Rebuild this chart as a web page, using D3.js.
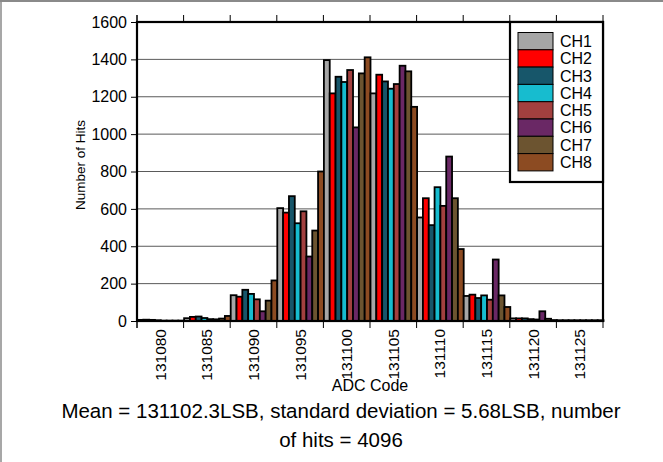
<!DOCTYPE html>
<html>
<head>
<meta charset="utf-8">
<script src="https://cdn.jsdelivr.net/npm/d3@7/dist/d3.min.js"></script>
<style>
  html, body { margin: 0; padding: 0; background: #fff; }
  svg { display: block; font-family: "Liberation Sans", Arial, sans-serif; }
</style>
</head>
<body>
<svg id="chart" width="663" height="462"></svg>
<script>
// ---- data ----
const categories = ["131080","131085","131090","131095","131100","131105","131110","131115","131120","131125"];
const channels = ["CH1","CH2","CH3","CH4","CH5","CH6","CH7","CH8"];
const channelColors = ["#a6a6a6","#ff0000","#17566a","#17bccf","#a3403f","#6a2865","#6c5430","#8c4b22"];
const ch1 = [6, 15, 138, 604, 1396, 1218, 554, 134, 14, 4];
const ch2 = [7, 22, 130, 580, 1218, 1318, 657, 141, 14, 4];
const ch3 = [6, 24, 167, 668, 1307, 1282, 513, 123, 14, 4];
const ch4 = [4, 16, 145, 523, 1279, 1243, 716, 137, 10, 4];
const ch5 = [2, 10, 116, 587, 1343, 1268, 616, 114, 8, 4];
const ch6 = [2, 9, 52, 345, 1036, 1366, 880, 329, 52, 4];
const ch7 = [2, 13, 109, 484, 1325, 1336, 657, 137, 12, 4];
const ch8 = [2, 27, 217, 800, 1411, 1146, 385, 75, 5, 4];
const yTicks = [0, 200, 400, 600, 800, 1000, 1200, 1400, 1600];
const caption1 = "Mean = 131102.3LSB, standard deviation = 5.68LSB, number";
const caption2 = "of hits = 4096";

const seriesValues = [ch1, ch2, ch3, ch4, ch5, ch6, ch7, ch8];

// ---- layout ----
const svg = d3.select("#chart");
const L = 137, R = 603, T = 22, B = 321;

// outer frame
svg.append("line").attr("x1", 0).attr("x2", 663).attr("y1", 1).attr("y2", 1)
  .attr("stroke", "#8a8a8a").attr("stroke-width", 2);
svg.append("line").attr("x1", 1).attr("x2", 1).attr("y1", 0).attr("y2", 462)
  .attr("stroke", "#8a8a8a").attr("stroke-width", 1.5);

const x = d3.scaleBand().domain(categories).range([L, R]).padding(0);
const xi = d3.scaleBand().domain(channels).range([0, x.bandwidth()]).padding(0);
const y = d3.scaleLinear().domain([0, 1600]).range([B, T]);

// gridlines
svg.append("g").selectAll("line").data(yTicks.filter(v => v > 0 && v < 1600)).join("line")
  .attr("x1", L).attr("x2", R)
  .attr("y1", d => y(d)).attr("y2", d => y(d))
  .attr("stroke", "#5a5a5a").attr("stroke-width", 1);

// bars
const groups = svg.append("g").selectAll("g").data(categories).join("g")
  .attr("transform", d => `translate(${x(d)},0)`);
groups.selectAll("rect")
  .data((c, ci) => channels.map((ch, k) => ({ ch, k, v: seriesValues[k][ci] })))
  .join("rect")
  .attr("x", d => xi(d.ch) + 0.5)
  .attr("width", xi.bandwidth())
  .attr("y", d => y(d.v))
  .attr("height", d => Math.max(0, B - y(d.v)))
  .attr("fill", d => channelColors[d.k])
  .attr("stroke", "#000")
  .attr("stroke-width", 1.8);

// y axis
const yAxis = svg.append("g").attr("transform", `translate(${L},0)`)
  .call(d3.axisLeft(y).tickValues(yTicks).tickSize(6).tickPadding(4).tickFormat(d3.format("d")));
yAxis.select(".domain").attr("d", `M0,${T - 7}V${B + 7}`).attr("stroke", "#000").attr("stroke-width", 1);
yAxis.selectAll(".tick line").attr("stroke", "#000");
yAxis.selectAll(".tick text").attr("font-size", 16).attr("fill", "#000")
  .attr("font-family", "Liberation Sans, Arial, sans-serif");

// x axis tick marks at category boundaries (bottom and top)
const bounds = categories.map(c => x(c)).concat([R]);
svg.append("g").selectAll("line").data(bounds).join("line")
  .attr("x1", d => d).attr("x2", d => d).attr("y1", B).attr("y2", B + 7)
  .attr("stroke", "#000").attr("stroke-width", 1);
svg.append("g").selectAll("line").data(bounds).join("line")
  .attr("x1", d => d).attr("x2", d => d).attr("y1", T - 7).attr("y2", T)
  .attr("stroke", "#000").attr("stroke-width", 1);

// x labels
svg.append("g").selectAll("text").data(categories).join("text")
  .attr("transform", d => `translate(${x(d) + x.bandwidth() / 2},${B + 8}) rotate(-90)`)
  .attr("text-anchor", "end").attr("dy", "0.35em")
  .attr("font-size", 15.5).attr("fill", "#000")
  .text(d => d);

// plot border
svg.append("rect").attr("x", L).attr("y", T).attr("width", R - L).attr("height", B - T)
  .attr("fill", "none").attr("stroke", "#000").attr("stroke-width", 2.2);

// axis titles
svg.append("text").attr("x", 370).attr("y", 391).attr("text-anchor", "middle")
  .attr("font-size", 16).text("ADC Code");
svg.append("text").attr("transform", "translate(85,165) rotate(-90)")
  .attr("text-anchor", "middle").attr("font-size", 13.5).text("Number of Hits");

// caption
svg.append("text").attr("x", 341).attr("y", 418).attr("text-anchor", "middle")
  .attr("font-size", 20.5).text(caption1);
svg.append("text").attr("x", 341).attr("y", 447).attr("text-anchor", "middle")
  .attr("font-size", 20.5).text(caption2);

// legend
const lg = svg.append("g");
lg.append("rect").attr("x", 510).attr("y", T).attr("width", R - 510).attr("height", 160)
  .attr("fill", "#fff").attr("stroke", "#000").attr("stroke-width", 2.2);
const sw = 17.3;
const items = lg.selectAll("g").data(channels).join("g")
  .attr("transform", (d, i) => `translate(518,${32.5 + i * sw})`);
items.append("rect").attr("width", 35).attr("height", sw)
  .attr("fill", (d, i) => channelColors[i]).attr("stroke", "#000").attr("stroke-width", 1);
items.append("text").attr("x", 42).attr("y", sw / 2).attr("dy", "0.36em")
  .attr("font-size", 16).text(d => d);
</script>
</body>
</html>
